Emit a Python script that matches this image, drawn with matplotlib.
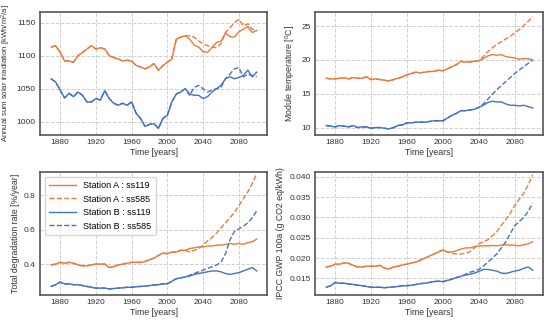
import matplotlib
matplotlib.use('Agg')
import matplotlib.pyplot as plt
import numpy as np

plt.rcParams['font.family'] = ['Liberation Sans', 'DejaVu Sans']
plt.rcParams['mathtext.default'] = 'regular'

# time axis (5-year sampling)
years = list(range(1870, 2101, 5))

# Annual sum solar irradiation [kWh/m2/a]
irr_a_119 = [1113, 1115, 1105, 1092, 1092, 1090, 1100, 1105, 1110, 1115, 1110, 1112,
             1110, 1100, 1097, 1095, 1092, 1093, 1092, 1085, 1083, 1080, 1083, 1088,
             1078, 1085, 1090, 1095, 1125, 1128, 1130, 1125, 1116, 1113, 1106, 1105,
             1112, 1120, 1122, 1134, 1129, 1128, 1136, 1140, 1144, 1135, 1138]
irr_a_585 = [1130, 1128, 1122, 1118, 1115, 1113, 1112, 1118, 1135, 1142, 1150, 1155,
             1145, 1148, 1140, 1138]
irr_b_119 = [1065, 1060, 1048, 1036, 1043, 1038, 1045, 1040, 1030, 1030, 1035, 1033,
             1047, 1035, 1028, 1025, 1028, 1025, 1030, 1013, 1005, 993, 996, 997,
             990, 1005, 1010, 1030, 1042, 1045, 1050, 1042, 1040, 1040, 1035, 1038,
             1045, 1050, 1055, 1065, 1068, 1065, 1067, 1070, 1078, 1068, 1075]
irr_b_585 = [1040, 1052, 1055, 1050, 1045, 1048, 1050, 1052, 1065, 1072, 1080, 1082,
             1068, 1072, 1070, 1068]

# Module temperature [C]
tmp_a_119 = [17.3, 17.2, 17.2, 17.3, 17.4, 17.2, 17.4, 17.3, 17.3, 17.5, 17.1, 17.2,
             17.1, 17.0, 16.9, 17.1, 17.3, 17.5, 17.8, 18.0, 18.2, 18.1, 18.2, 18.3,
             18.3, 18.5, 18.4, 18.7, 19.0, 19.3, 19.8, 19.7, 19.7, 19.8, 19.9, 20.2,
             20.6, 20.8, 20.7, 20.8, 20.5, 20.4, 20.3, 20.1, 20.2, 20.2, 20.0]
tmp_a_585 = [19.9, 20.5, 21.2, 21.8, 22.3, 22.7, 23.1, 23.5, 24.0, 24.5, 25.1, 25.7, 26.4]
tmp_b_119 = [10.3, 10.2, 10.1, 10.3, 10.2, 10.1, 10.3, 10.0, 10.1, 10.1, 9.9, 10.0,
             10.0, 9.9, 9.8, 10.0, 10.3, 10.4, 10.7, 10.7, 10.8, 10.8, 10.8, 10.9,
             11.0, 11.0, 11.0, 11.4, 11.8, 12.1, 12.5, 12.5, 12.6, 12.7, 13.0, 13.3,
             13.7, 13.9, 13.8, 13.8, 13.5, 13.3, 13.3, 13.2, 13.3, 13.1, 12.9]
tmp_b_585 = [13.0, 13.5, 14.2, 14.9, 15.6, 16.2, 16.8, 17.4, 18.0, 18.5, 19.0, 19.5, 20.0]

# Total degradation rate [%/year]
deg_a_119 = [0.395, 0.400, 0.410, 0.405, 0.410, 0.405, 0.395, 0.390, 0.390, 0.395, 0.400, 0.400,
             0.400, 0.380, 0.385, 0.395, 0.400, 0.405, 0.410, 0.410, 0.410, 0.415, 0.425, 0.435,
             0.450, 0.465, 0.460, 0.470, 0.470, 0.480, 0.480, 0.490, 0.495, 0.500, 0.500, 0.505,
             0.505, 0.510, 0.510, 0.515, 0.520, 0.515, 0.520, 0.515, 0.525, 0.530, 0.545]
deg_a_585 = [0.480, 0.470, 0.480, 0.490, 0.510, 0.535, 0.555, 0.580, 0.610, 0.640, 0.670,
             0.700, 0.740, 0.780, 0.820, 0.870, 0.925]
deg_b_119 = [0.270, 0.280, 0.295, 0.285, 0.285, 0.280, 0.280, 0.275, 0.270, 0.265, 0.260, 0.260,
             0.260, 0.255, 0.258, 0.260, 0.262, 0.265, 0.265, 0.268, 0.270, 0.272, 0.275, 0.278,
             0.280, 0.285, 0.285, 0.300, 0.315, 0.320, 0.325, 0.330, 0.340, 0.345, 0.350, 0.355,
             0.360, 0.360, 0.355, 0.345, 0.340, 0.345, 0.350, 0.360, 0.370, 0.380, 0.360]
deg_b_585 = [0.325, 0.335, 0.345, 0.355, 0.365, 0.375, 0.385, 0.395, 0.410, 0.460, 0.540,
             0.590, 0.605, 0.620, 0.640, 0.670, 0.710]

# IPCC GWP 100a (g CO2 eq/kWh)
gwp_a_119 = [0.0178, 0.0180, 0.0185, 0.0185, 0.0188, 0.0187, 0.0182, 0.0178, 0.0178, 0.0180, 0.0180, 0.0180,
             0.0182, 0.0175, 0.0173, 0.0178, 0.0180, 0.0183, 0.0185, 0.0188, 0.0190, 0.0195, 0.0200, 0.0205,
             0.0210, 0.0215, 0.0220, 0.0215, 0.0215, 0.0218, 0.0222, 0.0225, 0.0225, 0.0228, 0.0230, 0.0230,
             0.0230, 0.0231, 0.0230, 0.0232, 0.0233, 0.0232, 0.0232, 0.0230, 0.0233, 0.0235, 0.0240]
gwp_a_585 = [0.0215, 0.0212, 0.0210, 0.0210, 0.0212, 0.0215, 0.0225, 0.0235, 0.0240, 0.0245,
             0.0255, 0.0265, 0.0280, 0.0295, 0.0310, 0.0330, 0.0345, 0.0360, 0.0380, 0.0405]
gwp_b_119 = [0.0128, 0.0132, 0.0140, 0.0138, 0.0138, 0.0136, 0.0135, 0.0133, 0.0132, 0.0130, 0.0128, 0.0128,
             0.0128, 0.0127, 0.0128, 0.0129, 0.0130, 0.0132, 0.0132, 0.0133, 0.0135, 0.0137, 0.0138, 0.0140,
             0.0142, 0.0143, 0.0142, 0.0145, 0.0148, 0.0152, 0.0155, 0.0158, 0.0160, 0.0163, 0.0167, 0.0172,
             0.0172, 0.0170, 0.0168, 0.0163, 0.0162, 0.0165, 0.0168, 0.0170, 0.0175, 0.0178, 0.0170]
gwp_b_585 = [0.0155, 0.0160, 0.0165, 0.0168, 0.0172, 0.0180, 0.0190, 0.0200, 0.0210, 0.0225,
             0.0240, 0.0260, 0.0280, 0.0290, 0.0300, 0.0315, 0.0335]

c_a = '#ec7a3c'
c_b = '#4472c4'


def with_tail(base, tail):
    # ssp585 follows ssp119 until the scenarios split
    return base[:len(base) - len(tail)] + tail


panels = [
    ('Annual sum solar irradiation [kWh/m$^2$/a]', irr_a_119, irr_a_585, irr_b_119, irr_b_585,
     [1000, 1050, 1100, 1150], (980, 1166), '{:.0f}'),
    ('Module temperature [$^0$C]', tmp_a_119, tmp_a_585, tmp_b_119, tmp_b_585,
     [10, 15, 20, 25], (8.9, 27.1), '{:.0f}'),
    ('Total degradation rate [%/year]', deg_a_119, deg_a_585, deg_b_119, deg_b_585,
     [0.4, 0.6, 0.8], (0.22, 0.936), '{:.1f}'),
    ('IPCC GWP 100a (g CO2 eq/kWh)', gwp_a_119, gwp_a_585, gwp_b_119, gwp_b_585,
     [0.015, 0.020, 0.025, 0.030, 0.035, 0.040], (0.0109, 0.0412), '{:.3f}'),
]

W, H = 550, 321
boxes = [(40, 12, 267, 135), (315, 12, 543, 135),
         (40, 172, 267, 295), (315, 172, 543, 295)]

fig = plt.figure(figsize=(5.5, 3.21), dpi=100)
for (lab, a1, a5, b1, b5, yt, ylim, fmt), (x0, y0, x1, y1) in zip(panels, boxes):
    ax = fig.add_axes([x0 / W, 1 - y1 / H, (x1 - x0) / W, (y1 - y0) / H])
    ax.plot(years, a1, '-', color=c_a, lw=1.0, label='Station A : ss119')
    ax.plot(years, with_tail(a1, a5), '--', color=c_a, lw=1.0, label='Station A : ss585')
    ax.plot(years, b1, '-', color=c_b, lw=1.0, label='Station B : ss119')
    ax.plot(years, with_tail(b1, b5), '--', color=c_b, lw=1.0, label='Station B : ss585')
    ax.set_xlim(1857.5, 2111.5)
    ax.set_ylim(*ylim)
    ax.set_xticks([1880, 1920, 1960, 2000, 2040, 2080])
    ax.set_yticks(yt)
    ax.set_yticklabels([fmt.format(v) for v in yt])
    ax.grid(True, ls='--', color='#d0d0d0', lw=0.7)
    ax.tick_params(length=0, labelsize=6, colors='#333333', pad=3)
    for s in ax.spines.values():
        s.set_color('#555555')
        s.set_linewidth(1.2)
    ax.set_xlabel('Time [years]', fontsize=6.3, color='#333333', labelpad=1)
    fs = 5.6 if lab.startswith('Annual') else 6.3
    ax.set_ylabel(lab, fontsize=fs, color='#333333', labelpad=3)
    if lab.startswith('Total'):
        ax.legend(loc='upper left', fontsize=6.5, frameon=True, edgecolor='#cccccc',
                  handlelength=3, borderpad=0.5, labelspacing=0.5, fancybox=True)

fig.savefig('out.png', dpi=100)
